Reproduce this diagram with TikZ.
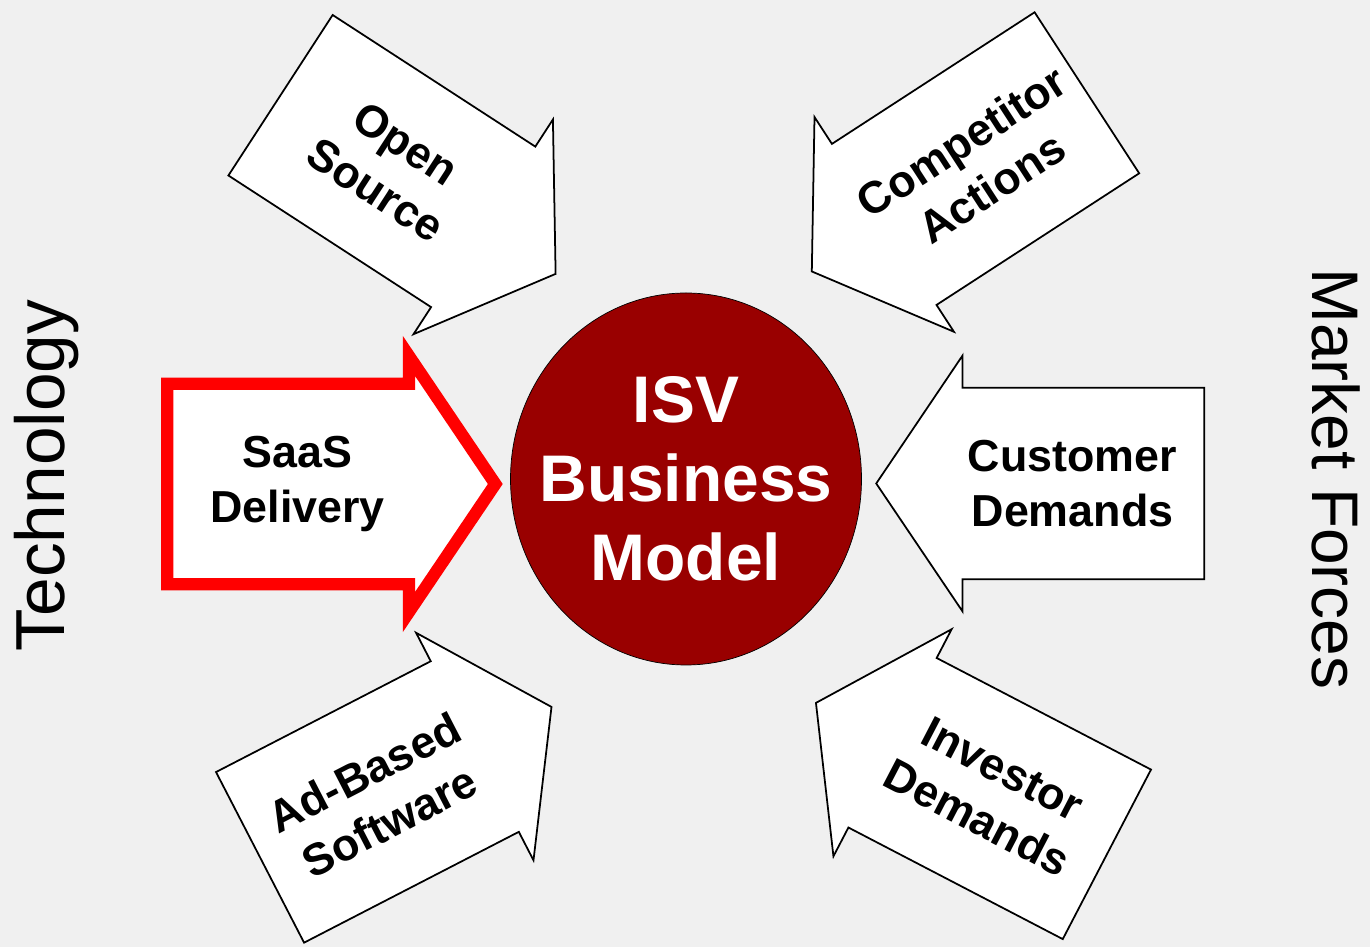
\documentclass[tikz,border=0pt]{standalone}
\usepackage{fontspec}
\setmainfont{Liberation Sans}
\usetikzlibrary{shapes.arrows,shapes.geometric}

\definecolor{backdrop}{RGB}{240,240,240}
\definecolor{isvred}{RGB}{153,0,0}

\begin{document}
\begin{tikzpicture}[
        force/.style={
          single arrow,
          draw,
          fill=white,
          line width=1pt,
          single arrow head extend=0.30cm,
          single arrow tip angle=112,
          minimum width=5.12cm,
          minimum height=6.56cm,
          inner sep=0pt,
          align=center,
          font=\fontsize{25.5}{31.5}\selectfont\bfseries
        },
        inward/.style={shape border rotate=180},
        side/.style={
          anchor=base,
          font=\fontsize{37.5}{44}\selectfont
        }
      ]
      \useasboundingbox (0,0) rectangle (27.4,18.94);
      \fill[backdrop] (0,0) rectangle (27.4,18.94);

      \node[draw, ellipse, fill=isvred, minimum width=7.02cm,
        minimum height=7.44cm, inner sep=0pt] (isv) at (13.72,9.36) {};
      \node[text=white, align=center,
        font=\fontsize{37.5}{45}\selectfont\bfseries] (isvtext) at (isv.center)
        {ISV\\Business\\Model};

      % technology side
      \node[force, rotate=-33] (opensource) at (7.82,15.60) {Open\\Source};
      \node[force, draw=red, line width=7pt] (saas) at (5.95,9.26)
        {SaaS\\Delivery};
      \node[force, rotate=27.3] (adbased) at (7.54,3.00) {Ad-Based\\Software};

      % market side
      \node[force, inward, rotate=33] (competitor) at (19.53,15.65)
        {Competitor\\Actions};
      \node[force, inward] (customer) at (21.45,9.27) {Customer\\Demands};
      \node[force, inward, rotate=-27.5] (investor) at (19.80,3.07)
        {Investor\\Demands};

      \node[side, rotate=90, font=\fontsize{39.5}{44}\selectfont] (technology)
        at (1.28,9.43) {Technology};
      \node[side, rotate=-90] (market) at (26.24,9.36) {Market Forces};
    \end{tikzpicture}
\end{document}
